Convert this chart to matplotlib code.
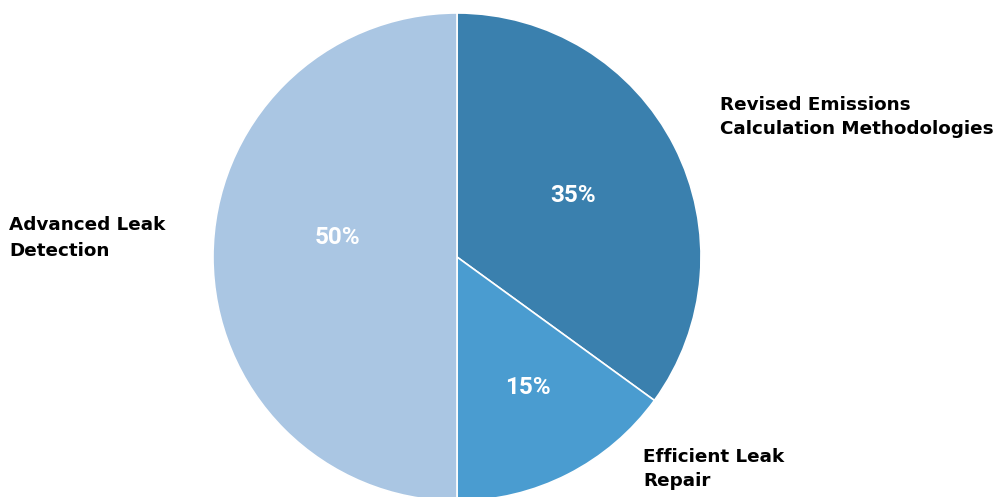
import numpy as np
import matplotlib
matplotlib.use("Agg")
import matplotlib.pyplot as plt

categories = ["Revised Emissions\nCalculation Methodologies",
              "Efficient Leak\nRepair",
              "Advanced Leak\nDetection"]
shares = [35, 15, 50]
colors = ["#3A80AE", "#4A9CD0", "#AAC6E3"]

# label anchors in pixel units (y measured up from the bottom)
name_pos = [(720, 380), (643, 28), (9, 259)]
pct_pos = [(573, 302), (528, 109), (337, 259)]

fig = plt.figure(figsize=(9.97, 4.97), dpi=100)
ax = fig.add_axes([0, 0, 1, 1])

cx, cy, R = 457, 240, 244
wedges, _ = ax.pie(shares, colors=colors, startangle=90, counterclock=False,
                   center=(cx, cy), radius=R,
                   wedgeprops=dict(edgecolor='white', linewidth=1.2))

# pie() resets the limits, so fix the pixel-unit frame afterwards
ax.set_xlim(0, 997)
ax.set_ylim(0, 497)
ax.set_aspect('equal')
ax.axis('off')

for val, (x, y) in zip(shares, pct_pos):
    ax.text(x, y, f"{val}%", color='white', fontsize=17.5, fontweight='bold',
            family=['Roboto', 'DejaVu Sans'], ha='center', va='center')

for name, (x, y) in zip(categories, name_pos):
    ax.text(x, y, name, color='black', fontsize=13.2, fontweight='bold',
            family=['DejaVu Sans'], ha='left', va='center', linespacing=1.5)

fig.savefig("out.png", dpi=100)
